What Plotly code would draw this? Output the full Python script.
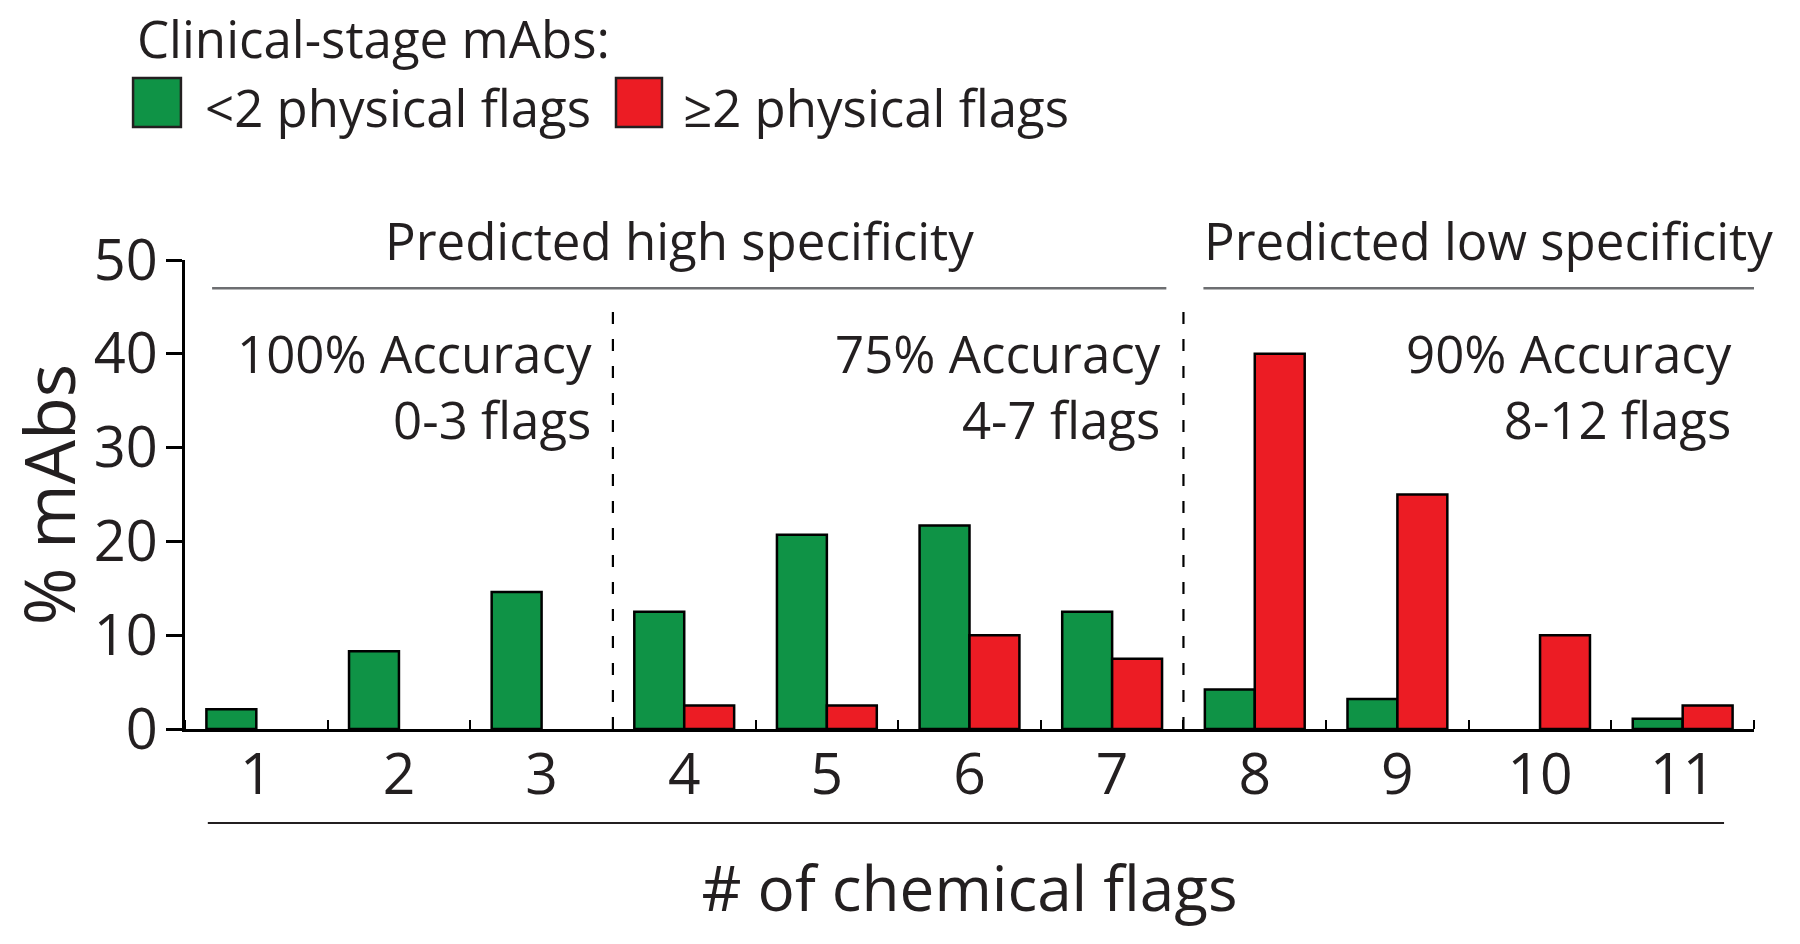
import plotly.graph_objects as go

# data
flags = [1, 2, 3, 4, 5, 6, 7, 8, 9, 10, 11]
low_phys = [2.1, 8.3, 14.6, 12.5, 20.7, 21.7, 12.5, 4.2, 3.2, 0, 1.1]   # <2 physical flags
high_phys = [0, 0, 0, 2.5, 2.5, 10.0, 7.5, 40.0, 25.0, 10.0, 2.5]     # >=2 physical flags
group_names = ["<2 physical flags", "\u22652 physical flags"]
group_colors = ["#0f9346", "#ec1c24"]

FONT = "Open Sans"
INK = "#231f20"

fig = go.Figure()
for name, vals, col in zip(group_names, [low_phys, high_phys], group_colors):
    fig.add_trace(go.Bar(
        x=flags, y=[v if v else None for v in vals], name=name,
        marker=dict(color=col, line=dict(color="black", width=2.5)),
        showlegend=False,
    ))

fig.update_layout(
    width=1800, height=944,
    margin=dict(l=185, r=46, t=260, b=215),
    paper_bgcolor="white", plot_bgcolor="white",
    barmode="group", bargap=0.30, bargroupgap=0,
    font=dict(family=FONT, color=INK),
    xaxis=dict(
        range=[0.5, 11.5], tickvals=flags, ticks="", automargin=False,
        tickfont=dict(size=57), ticklabelstandoff=-6,
        showline=True, linecolor="black", linewidth=3,
        showgrid=False, zeroline=False,
        minor=dict(tick0=0.5, dtick=1, ticks="inside", ticklen=9,
                   tickwidth=2, tickcolor="black", showgrid=False),
        title=dict(text="# of chemical flags", font=dict(size=62), standoff=58),
    ),
    yaxis=dict(
        range=[0, 50], tickvals=[0, 10, 20, 30, 40, 50], automargin=False,
        ticks="outside", ticklen=16, tickwidth=3, tickcolor="black",
        tickfont=dict(size=56), ticklabelstandoff=-3,
        showline=True, linecolor="black", linewidth=3,
        showgrid=False, zeroline=False,
        title=dict(text="% mAbs", font=dict(size=70), standoff=43),
    ),
)

# region separators
for xv, ytop in [(3.5, 45.6), (7.5, 44.7)]:
    fig.add_shape(type="line", xref="x", yref="y", x0=xv, x1=xv, y0=0, y1=ytop,
                  line=dict(color="black", width=2.2, dash="12px,15px"))

# specificity headers
fig.add_shape(type="line", xref="x", yref="y", x0=0.69, x1=7.38, y0=47.0, y1=47.0,
              line=dict(color="#6d6e71", width=2.5))
fig.add_shape(type="line", xref="x", yref="y", x0=7.64, x1=11.5, y0=47.0, y1=47.0,
              line=dict(color="#6d6e71", width=2.5))
for txt, xc in [("Predicted high specificity", 3.97), ("Predicted low specificity", 9.64)]:
    fig.add_annotation(text=txt, xref="x", yref="paper", x=xc, y=1.042,
                       xanchor="center", yanchor="middle", showarrow=False,
                       font=dict(size=51))

# accuracy labels
acc = [("100% Accuracy<br>0-3 flags", 3.37),
       ("75% Accuracy<br>4-7 flags", 7.36),
       ("90% Accuracy<br>8-12 flags", 11.36)]
for txt, xr in acc:
    fig.add_annotation(text=txt, xref="x", yref="y", x=xr, y=36.6,
                       xanchor="right", yanchor="middle", align="right",
                       showarrow=False, font=dict(size=51))

# line under the tick labels
fig.add_shape(type="line", xref="x", yref="paper", x0=0.66, x1=11.29, y0=-0.2004, y1=-0.2004,
              line=dict(color="#231f20", width=2))

# hand-drawn legend
fig.add_annotation(text="Clinical-stage mAbs:", xref="paper", yref="paper",
                   x=-0.0319, y=1.473, xanchor="left", yanchor="middle",
                   showarrow=False, font=dict(size=51))
legend_pos = [(-0.0331, -0.0026, 0.0115), (0.2747, 0.3040, 0.316)]
for (x0, x1, xt), name, col in zip(legend_pos, group_names, group_colors):
    fig.add_shape(type="rect", xref="paper", yref="paper", x0=x0, x1=x1, y0=1.2836, y1=1.388,
                  fillcolor=col, line=dict(color="#231f20", width=2.5))
    fig.add_annotation(text=name, xref="paper", yref="paper", x=xt, y=1.326,
                       xanchor="left", yanchor="middle", showarrow=False,
                       font=dict(size=51))

# drop the default page margin so the figure sits at the window origin
fig.write_html("out.html", config={"displayModeBar": False},
               post_script="document.body.style.margin='0';")
